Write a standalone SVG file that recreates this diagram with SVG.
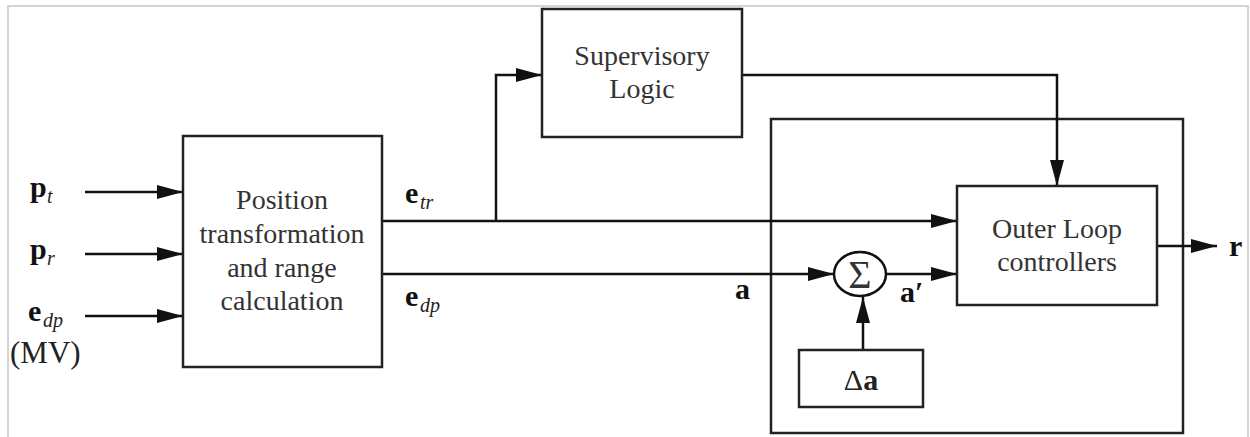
<svg xmlns="http://www.w3.org/2000/svg" width="1250" height="437" viewBox="0 0 1250 437">
<defs>
<marker id="arrL" markerWidth="26" markerHeight="14" refX="26" refY="7" orient="auto" markerUnits="userSpaceOnUse">
<path d="M0,0 L26,7 L0,14 z" fill="#111"/>
</marker>
</defs>
<style>
.box{fill:#fff;stroke:#222;stroke-width:2.5}
.frame{fill:none;stroke:#222;stroke-width:2.5}
.ln{fill:none;stroke:#111;stroke-width:2.5}
.b{font-family:'Liberation Serif','Times New Roman',serif;font-size:30px;font-weight:bold;fill:#111}
.s{font-family:'Liberation Serif','Times New Roman',serif;font-size:20px;font-style:italic;fill:#222}
</style>
<rect x="0" y="0" width="1250" height="437" fill="#fff"/>
<rect x="8" y="6" width="1240" height="440" fill="none" stroke="#d4d4d4" stroke-width="2"/>

<g id="outer-frame">
<rect class="frame" x="771" y="119" width="412" height="314"/>
</g>

<g id="connectors">
<path class="ln" d="M85,192 H183" marker-end="url(#arrL)"/>
<path class="ln" d="M85,254 H183" marker-end="url(#arrL)"/>
<path class="ln" d="M85,316 H183" marker-end="url(#arrL)"/>
<path class="ln" d="M382,221 H957" marker-end="url(#arrL)"/>
<path class="ln" d="M496,221 V75 H542" marker-end="url(#arrL)"/>
<path class="ln" d="M742,75 H1057 V186" marker-end="url(#arrL)"/>
<path class="ln" d="M382,274 H834" marker-end="url(#arrL)"/>
<path class="ln" d="M886,274 H957" marker-end="url(#arrL)"/>
<path class="ln" d="M863,350 V297" marker-end="url(#arrL)"/>
<path class="ln" d="M1157,246 H1217" marker-end="url(#arrL)"/>
</g>

<g id="position">
<rect class="box" x="183" y="136" width="199" height="231"/>
<g font-family="Liberation Serif, Times New Roman, serif" font-size="28" fill="#333" text-anchor="middle">
<text x="282" y="209">Position</text>
<text x="282" y="243">transformation</text>
<text x="282" y="277">and range</text>
<text x="282" y="310">calculation</text>
</g>
</g>

<g id="supervisory">
<rect class="box" x="542" y="9" width="200" height="128"/>
<g font-family="Liberation Serif, Times New Roman, serif" font-size="28" fill="#333" text-anchor="middle">
<text x="642" y="65">Supervisory</text>
<text x="642" y="98">Logic</text>
</g>
</g>

<g id="outer-loop">
<rect class="box" x="957" y="186" width="200" height="119"/>
<g font-family="Liberation Serif, Times New Roman, serif" font-size="28" fill="#333" text-anchor="middle">
<text x="1057" y="238">Outer Loop</text>
<text x="1057" y="271">controllers</text>
</g>
</g>

<g id="sum">
<ellipse cx="860" cy="274" rx="26" ry="22" fill="#fff" stroke="#111" stroke-width="2.5"/>
<text x="860" y="288" font-family="Liberation Serif, serif" font-size="40" fill="#333" text-anchor="middle">Σ</text>
</g>

<g id="delta-a">
<rect class="box" x="799" y="350" width="124" height="57"/>
<text x="861" y="390" font-family="Liberation Serif, serif" font-size="30" fill="#222" text-anchor="middle"><tspan font-weight="normal">Δ</tspan><tspan font-weight="bold">a</tspan></text>
</g>

<g id="labels">
<text class="b" x="30" y="197">p</text><text class="s" x="47" y="203">t</text>
<text class="b" x="30" y="259">p</text><text class="s" x="47" y="265">r</text>
<text class="b" x="28" y="321">e</text><text class="s" x="43" y="327">dp</text>
<text x="10" y="363" font-family="Liberation Serif, serif" font-size="31" fill="#222">(MV)</text>
<text class="b" x="405" y="203">e</text><text class="s" x="420" y="209">tr</text>
<text class="b" x="405" y="306">e</text><text class="s" x="420" y="312">dp</text>
<text class="b" x="735" y="299">a</text>
<text class="b" x="900" y="302">a′</text>
<text class="b" x="1229" y="256">r</text>
</g>
</svg>
